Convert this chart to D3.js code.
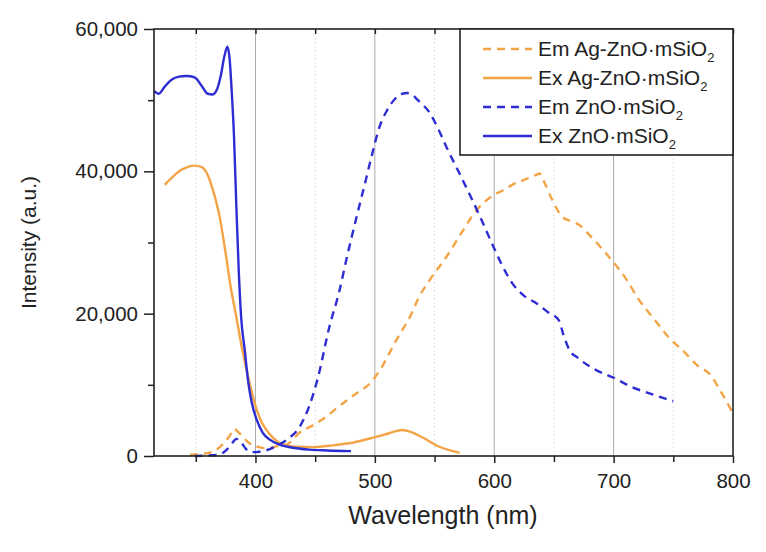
<!DOCTYPE html>
<html>
<head>
<meta charset="utf-8">
<script src="https://cdn.jsdelivr.net/npm/d3@7"></script>
<style>
  body { margin: 0; background: #fff; }
  text { font-family: "Liberation Sans", Arial, sans-serif; fill: #222; }
</style>
</head>
<body>
<div id="chart"></div>
<script>
// series names (legend order) and their data
const seriesNames = ["Em Ag-ZnO·mSiO", "Ex Ag-ZnO·mSiO", "Em ZnO·mSiO", "Ex ZnO·mSiO"];

const emAgWl = [345, 352, 360, 367, 374, 379, 382, 386, 391, 397, 403, 409, 415, 420, 426, 437, 448, 459, 470, 482, 498, 504, 518, 531, 536, 545, 560, 572, 585, 598, 607, 615, 625, 635, 638, 641, 648, 657, 664, 671, 680, 696, 710, 721, 735, 746, 760, 771, 780, 790, 800];
const emAgVal = [150, 250, 400, 850, 1900, 3000, 3800, 3300, 2400, 1550, 1250, 1100, 1250, 1450, 1600, 3300, 4300, 5500, 7000, 8500, 10600, 12000, 16300, 20100, 22000, 24500, 28000, 31200, 34500, 36500, 37300, 38100, 38800, 39500, 39700, 38800, 36200, 33600, 33000, 32500, 31000, 28000, 25000, 22000, 19000, 16700, 14500, 12600, 11600, 9000, 6000];

const exAgWl = [324, 330, 337, 343, 349, 355, 360, 365, 370, 375, 379, 384, 389, 395, 401, 405, 409, 415, 420, 427, 434, 448, 465, 482, 498, 512, 523, 530, 540, 554, 563, 571];
const exAgVal = [38100, 39100, 40100, 40600, 40800, 40600, 39500, 37000, 33600, 28500, 24000, 19500, 14900, 10300, 6500, 4800, 3700, 2500, 1850, 1450, 1300, 1250, 1500, 1900, 2550, 3200, 3650, 3400, 2600, 1300, 800, 450];

const emZnWl = [349, 358, 368, 376, 380, 384, 388, 392, 395, 400, 405, 409, 415, 421, 428, 437, 445, 452, 462, 470, 476, 485, 492, 498, 504, 510, 517, 523, 527, 531, 536, 546, 553, 560, 570, 579, 589, 598, 606, 615, 625, 635, 645, 654, 658, 663, 670, 685, 700, 715, 730, 746, 750];
const emZnVal = [0, 50, 150, 900, 1700, 2400, 1900, 1000, 600, 550, 650, 800, 1200, 1700, 2500, 4100, 7000, 10800, 18200, 23000, 27500, 33800, 38500, 42600, 46300, 48500, 50200, 50900, 51000, 50800, 50000, 48200, 46000, 43400, 40000, 36900, 33300, 29900, 27000, 24300, 22500, 21500, 20200, 19100, 17000, 14900, 13800, 12100, 11000, 9700, 8800, 7900, 7700];

const exZnWl = [315, 319, 324, 330, 336, 342, 349, 355, 360, 364, 368, 371, 374, 376.5, 378.5, 380, 382, 384, 386, 388, 391, 394, 397, 401, 406, 412, 420, 430, 445, 460, 480];
const exZnVal = [51300, 50900, 51900, 52900, 53300, 53400, 53200, 52000, 50900, 50800, 51600, 53500, 56200, 57500, 55500, 51500, 45000, 35000, 26000, 19500, 14900, 10300, 7400, 5100, 3300, 2300, 1600, 1200, 900, 780, 680];

const xTicks = [400, 500, 600, 700, 800];
const xMinor = [350, 450, 550, 650, 750];
const yTicks = [0, 20000, 40000, 60000];
const yMinor = [10000, 30000, 50000];

const width = 766, height = 552;
const margin = { left: 154, right: 33, top: 29, bottom: 96 };
const orange = "#F2A446", blue = "#2D2DD2";

const svg = d3.select("#chart").append("svg")
    .attr("width", width)
    .attr("height", height);

const x = d3.scaleLinear().domain([315, 800]).range([margin.left, width - margin.right]);
const y = d3.scaleLinear().domain([0, 60000]).range([height - margin.bottom, margin.top]);

const x0 = margin.left, x1 = width - margin.right;
const y0 = height - margin.bottom, y1 = margin.top;

// grid lines
svg.append("g").selectAll("line").data(xMinor).join("line")
    .attr("x1", d => x(d)).attr("x2", d => x(d))
    .attr("y1", y0).attr("y2", y1)
    .attr("stroke", "#e2e2e2").attr("stroke-dasharray", "2,2");
svg.append("g").selectAll("line").data(xTicks.slice(0, -1)).join("line")
    .attr("x1", d => x(d)).attr("x2", d => x(d))
    .attr("y1", y0).attr("y2", y1)
    .attr("stroke", "#aaa").attr("stroke-width", 1);

// curves
const series = [
    { wl: emAgWl, val: emAgVal, color: orange, dash: "8,6" },
    { wl: exAgWl, val: exAgVal, color: orange, dash: null },
    { wl: emZnWl, val: emZnVal, color: blue, dash: "8,6" },
    { wl: exZnWl, val: exZnVal, color: blue, dash: null }
];

const line = d3.line()
    .x(d => x(d[0]))
    .y(d => y(d[1]))
    .curve(d3.curveMonotoneX);

svg.append("g").selectAll("path").data(series).join("path")
    .attr("d", s => line(d3.zip(s.wl, s.val)))
    .attr("fill", "none")
    .attr("stroke", s => s.color)
    .attr("stroke-width", 2.4)
    .attr("stroke-dasharray", s => s.dash);

// axes
const xAxis = svg.append("g")
    .attr("transform", `translate(0,${y0})`)
    .call(d3.axisBottom(x).tickValues(xTicks).tickSize(7).tickPadding(10).tickFormat(d3.format("d")));
xAxis.select(".domain").remove();
xAxis.selectAll("text").attr("font-size", 20.5).attr("fill", "#222");

svg.append("g").attr("transform", `translate(0,${y0})`)
    .call(d3.axisBottom(x).tickValues(xMinor).tickSize(6).tickFormat(""))
    .select(".domain").remove();

// top ticks point inward
svg.append("g").attr("transform", `translate(0,${y1})`)
    .call(d3.axisBottom(x).tickValues(xMinor.concat(xTicks)).tickSize(5).tickFormat(""))
    .select(".domain").remove();

const yAxis = svg.append("g")
    .attr("transform", `translate(${x0},0)`)
    .call(d3.axisLeft(y).tickValues(yTicks).tickSize(10).tickPadding(6).tickFormat(d3.format(",")));
yAxis.select(".domain").remove();
yAxis.selectAll("text").attr("font-size", 20.5).attr("fill", "#222");

svg.append("g").attr("transform", `translate(${x0},0)`)
    .call(d3.axisLeft(y).tickValues(yMinor).tickSize(6).tickFormat(""))
    .select(".domain").remove();

svg.selectAll(".tick line").attr("stroke", "#222").attr("stroke-width", 1.5);

// frame
svg.append("rect")
    .attr("x", x0).attr("y", y1)
    .attr("width", x1 - x0).attr("height", y0 - y1)
    .attr("fill", "none").attr("stroke", "#222").attr("stroke-width", 1.6);

// axis titles
svg.append("text")
    .attr("x", 443).attr("y", 524)
    .attr("text-anchor", "middle").attr("font-size", 25)
    .text("Wavelength (nm)");
svg.append("text")
    .attr("transform", `translate(36,${(y0 + y1) / 2}) rotate(-90)`)
    .attr("text-anchor", "middle").attr("font-size", 21)
    .text("Intensity (a.u.)");

// legend
const legend = svg.append("g");
legend.append("rect")
    .attr("x", 460).attr("y", y1)
    .attr("width", x1 - 460).attr("height", 126)
    .attr("fill", "#fff").attr("stroke", "#222").attr("stroke-width", 1.6);

const rows = legend.selectAll("g.row").data(series).join("g")
    .attr("class", "row")
    .attr("transform", (d, i) => `translate(0,${49 + i * 29})`);
rows.append("line")
    .attr("x1", 483).attr("x2", 532)
    .attr("stroke", d => d.color).attr("stroke-width", 2.4)
    .attr("stroke-dasharray", d => d.dash);
const labels = rows.append("text")
    .attr("x", 538).attr("y", 7)
    .attr("font-size", 21);
labels.append("tspan").text((d, i) => seriesNames[i]);
labels.append("tspan").attr("font-size", 13).attr("dy", 6).text("2");
</script>
</body>
</html>
